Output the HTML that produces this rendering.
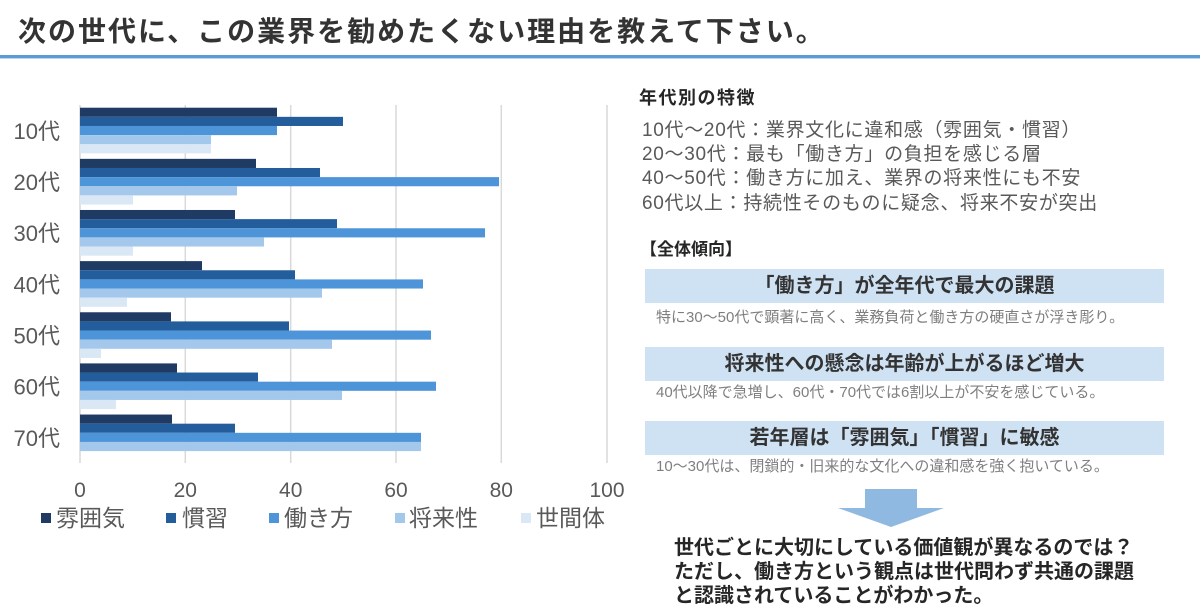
<!DOCTYPE html>
<html lang="ja">
<head>
<meta charset="utf-8">
<style>
  html,body{margin:0;padding:0;}
  body{width:1200px;height:612px;position:relative;background:#fff;overflow:hidden;
       font-family:"Liberation Sans","Noto Sans CJK JP",sans-serif;}
  .abs{position:absolute;white-space:nowrap;}
  .title{left:18px;top:12px;line-height:40px;font-size:28px;font-weight:bold;letter-spacing:2px;color:#333;}
  .rule{left:0;top:55px;width:1200px;height:3px;background:#5b9bd5;}
  .rule2{left:0;top:58px;width:1200px;height:1px;background:#bcd6ee;}
  .h1{left:639px;top:86px;line-height:24px;font-size:18px;font-weight:bold;letter-spacing:1.5px;color:#262626;}
  .list{left:642px;top:119px;line-height:24.2px;font-size:19px;letter-spacing:0.7px;color:#595959;}
  .h2{left:640px;top:238px;line-height:24px;font-size:17px;font-weight:bold;color:#262626;}
  .box{left:645px;width:519px;height:34px;background:#cfe2f4;text-align:center;line-height:34px;
       font-size:20px;font-weight:bold;color:#333;}
  .sub{left:656px;line-height:20px;font-size:15px;color:#7f7f7f;}
  .final{left:674px;top:536px;line-height:24px;font-size:20px;font-weight:bold;color:#262626;}
</style>
</head>
<body>

<svg class="abs" style="left:0;top:0" width="1200" height="612" viewBox="0 0 1200 612" xmlns="http://www.w3.org/2000/svg">
  <g stroke="#d9d9d9" stroke-width="1.5">
    <line x1="80" y1="105" x2="80" y2="463"/>
    <line x1="185.3" y1="105" x2="185.3" y2="463"/>
    <line x1="290.7" y1="105" x2="290.7" y2="463"/>
    <line x1="396" y1="105" x2="396" y2="463"/>
    <line x1="501.3" y1="105" x2="501.3" y2="463"/>
    <line x1="607" y1="105" x2="607" y2="463"/>
  </g>
  <g>
    <rect x="80" y="107.7" width="197" height="9.14" fill="#1f3b64"/>
    <rect x="80" y="116.84" width="263" height="9.14" fill="#235d9b"/>
    <rect x="80" y="125.98" width="197" height="9.14" fill="#4d94d8"/>
    <rect x="80" y="135.12" width="131" height="9.14" fill="#a3c8ec"/>
    <rect x="80" y="144.26" width="131" height="9.14" fill="#dae8f6"/>

    <rect x="80" y="158.84" width="176" height="9.14" fill="#1f3b64"/>
    <rect x="80" y="167.98" width="240" height="9.14" fill="#235d9b"/>
    <rect x="80" y="177.12" width="419" height="9.14" fill="#4d94d8"/>
    <rect x="80" y="186.26" width="157" height="9.14" fill="#a3c8ec"/>
    <rect x="80" y="195.4" width="53" height="9.14" fill="#dae8f6"/>

    <rect x="80" y="209.98" width="155" height="9.14" fill="#1f3b64"/>
    <rect x="80" y="219.12" width="257" height="9.14" fill="#235d9b"/>
    <rect x="80" y="228.26" width="405" height="9.14" fill="#4d94d8"/>
    <rect x="80" y="237.4" width="184" height="9.14" fill="#a3c8ec"/>
    <rect x="80" y="246.54" width="53" height="9.14" fill="#dae8f6"/>

    <rect x="80" y="261.12" width="122" height="9.14" fill="#1f3b64"/>
    <rect x="80" y="270.26" width="215" height="9.14" fill="#235d9b"/>
    <rect x="80" y="279.4" width="343" height="9.14" fill="#4d94d8"/>
    <rect x="80" y="288.54" width="242" height="9.14" fill="#a3c8ec"/>
    <rect x="80" y="297.68" width="47" height="9.14" fill="#dae8f6"/>

    <rect x="80" y="312.26" width="91" height="9.14" fill="#1f3b64"/>
    <rect x="80" y="321.4" width="209" height="9.14" fill="#235d9b"/>
    <rect x="80" y="330.54" width="351" height="9.14" fill="#4d94d8"/>
    <rect x="80" y="339.68" width="252" height="9.14" fill="#a3c8ec"/>
    <rect x="80" y="348.82" width="21" height="9.14" fill="#dae8f6"/>

    <rect x="80" y="363.4" width="97" height="9.14" fill="#1f3b64"/>
    <rect x="80" y="372.54" width="178" height="9.14" fill="#235d9b"/>
    <rect x="80" y="381.68" width="356" height="9.14" fill="#4d94d8"/>
    <rect x="80" y="390.82" width="262" height="9.14" fill="#a3c8ec"/>
    <rect x="80" y="399.96" width="36" height="9.14" fill="#dae8f6"/>

    <rect x="80" y="414.54" width="92" height="9.14" fill="#1f3b64"/>
    <rect x="80" y="423.68" width="155" height="9.14" fill="#235d9b"/>
    <rect x="80" y="432.82" width="341" height="9.14" fill="#4d94d8"/>
    <rect x="80" y="441.96" width="341" height="9.14" fill="#a3c8ec"/>
  </g>
  <g font-family="Liberation Sans, Noto Sans CJK JP, sans-serif" font-size="22" fill="#595959" text-anchor="end">
    <text x="60" y="139">10代</text>
    <text x="60" y="190.1">20代</text>
    <text x="60" y="241.2">30代</text>
    <text x="60" y="292.4">40代</text>
    <text x="60" y="343.5">50代</text>
    <text x="60" y="394.7">60代</text>
    <text x="60" y="445.8">70代</text>
  </g>
  <g font-family="Liberation Sans, sans-serif" font-size="21" fill="#595959" text-anchor="middle">
    <text x="80" y="497">0</text>
    <text x="185.3" y="497">20</text>
    <text x="290.7" y="497">40</text>
    <text x="396" y="497">60</text>
    <text x="501.3" y="497">80</text>
    <text x="607" y="497">100</text>
  </g>
  <g>
    <rect x="41" y="513" width="10" height="10" fill="#1f3b64"/>
    <rect x="166" y="513" width="10" height="10" fill="#235d9b"/>
    <rect x="269" y="513" width="10" height="10" fill="#4d94d8"/>
    <rect x="395" y="513" width="10" height="10" fill="#a3c8ec"/>
    <rect x="521" y="513" width="10" height="10" fill="#dae8f6"/>
  </g>
  <g font-family="Liberation Sans, Noto Sans CJK JP, sans-serif" font-size="23" fill="#595959">
    <text x="56" y="526">雰囲気</text>
    <text x="182" y="526">慣習</text>
    <text x="284" y="526">働き方</text>
    <text x="409" y="526">将来性</text>
    <text x="536" y="526">世間体</text>
  </g>
  <polygon points="865,489 917,489 917,508 944,508 891,527 838,508 865,508" fill="#8fb9e1"/>
</svg>

<div class="abs title">次の世代に、この業界を勧めたくない理由を教えて下さい。</div>
<div class="abs rule"></div>
<div class="abs rule2"></div>

<div class="abs h1">年代別の特徴</div>
<div class="abs list">10代～20代：業界文化に違和感（雰囲気・慣習）<br>20～30代：最も「働き方」の負担を感じる層<br>40～50代：働き方に加え、業界の将来性にも不安<br>60代以上：持続性そのものに疑念、将来不安が突出</div>

<div class="abs h2">【全体傾向】</div>

<div class="abs box" style="top:269px">「働き方」が全年代で最大の課題</div>
<div class="abs sub" style="top:308px">特に30～50代で顕著に高く、業務負荷と働き方の硬直さが浮き彫り。</div>

<div class="abs box" style="top:347px">将来性への懸念は年齢が上がるほど増大</div>
<div class="abs sub" style="top:383px">40代以降で急増し、60代・70代では6割以上が不安を感じている。</div>

<div class="abs box" style="top:421px">若年層は「雰囲気」「慣習」に敏感</div>
<div class="abs sub" style="top:457px">10～30代は、閉鎖的・旧来的な文化への違和感を強く抱いている。</div>

<div class="abs final">世代ごとに大切にしている価値観が異なるのでは？<br>ただし、働き方という観点は世代問わず共通の課題<br>と認識されていることがわかった。</div>

</body>
</html>
